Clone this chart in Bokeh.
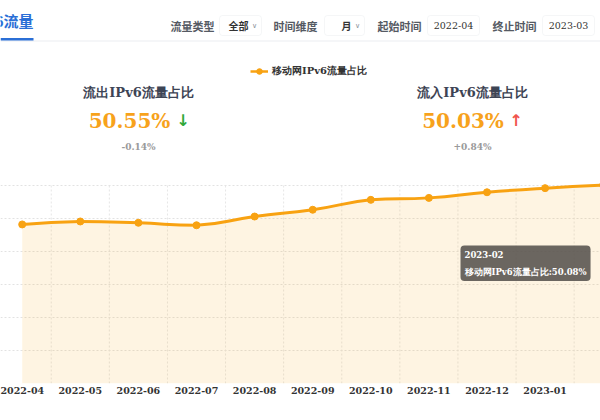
import numpy as np
from bokeh.plotting import figure
from bokeh.models import (Range1d, FixedTicker, Grid, Label, BoxAnnotation,
                          Legend, LegendItem)
from bokeh.embed import file_html
from bokeh.resources import INLINE

# ---------------- data ----------------
months = ["2022-04", "2022-05", "2022-06", "2022-07", "2022-08", "2022-09",
          "2022-10", "2022-11", "2022-12", "2023-01", "2023-02"]
share = [50.0564, 50.0582, 50.0574, 50.0559, 50.0612, 50.0653,
         50.0713, 50.0725, 50.0759, 50.0784, 50.0802]
y_ticks = [49.96, 49.98, 50.00, 50.02, 50.04, 50.06, 50.08]
series_name = "移动网IPv6流量占比"

out_title = "流出IPv6流量占比"
out_ratio = 50.55
out_change = -0.14
in_title = "流入IPv6流量占比"
in_ratio = 50.03
in_change = 0.84

tab_title = "IPv6流量"
filter_names = ["流量类型", "时间维度", "起始时间", "终止时间"]
filter_values = ["全部", "月", "2022-04", "2023-03"]
tooltip_index = 10

# ---------------- layout constants ----------------
W, HT = 600, 420
H = 383                      # frame height (canvas y of x-axis)
STEP_PX = 58.1               # px per category
FIRST_PX = 21.7              # px of first category center
GRID_PX = 33.0               # px between horizontal grid lines
ORANGE = "#f8a212"

n = len(share)
xs = np.arange(n, dtype=float)
ys = np.array(share)
grid_step = y_ticks[1] - y_ticks[0]
y0 = y_ticks[0]
x_start = -FIRST_PX / STEP_PX

p = figure(width=W, height=HT,
           x_range=Range1d(x_start, x_start + W / STEP_PX),
           y_range=Range1d(y0, y0 + grid_step * H / GRID_PX),
           output_backend="svg", toolbar_location=None,
           y_axis_location=None, min_border=0, min_border_bottom=HT - H,
           outline_line_color=None, background_fill_color="white",
           border_fill_color="white")
for g in p.grid:
    g.visible = False

# horizontal dotted grid
p.add_layout(Grid(dimension=1, ticker=FixedTicker(ticks=y_ticks),
                  grid_line_color="#e2e2e2", grid_line_dash="2 2",
                  grid_line_width=1))

# vertical dotted boundaries between categories
bx = np.arange(-1, n) + 0.5
p.segment(x0=bx, y0=[y_ticks[0]] * len(bx), x1=bx, y1=[y_ticks[-1]] * len(bx),
          line_color="#e6e6e6", line_dash="2 2", line_width=1)

# area fill
p.varea(x=xs, y1=[y0] * n, y2=ys, fill_color=ORANGE, fill_alpha=0.12)

# smooth line (ECharts-like bezier smoothing, smooth = 0.5)
smooth = 0.5
cin_x, cin_y, cout_x, cout_y = [], [], [], []
for i in range(n):
    x, y = xs[i], ys[i]
    if i == 0 or i == n - 1:
        cin_x.append(x); cin_y.append(y); cout_x.append(x); cout_y.append(y)
        continue
    px_, py_ = xs[i - 1], ys[i - 1]
    nx_, ny_ = xs[i + 1], ys[i + 1]
    vx, vy = nx_ - px_, ny_ - py_
    r = 0.5
    ax, ay = x - vx * smooth * (1 - r), y - vy * smooth * (1 - r)
    ax = min(max(ax, min(x, px_)), max(x, px_))
    ay = min(max(ay, min(y, py_)), max(y, py_))
    bx_, by_ = x + vx * smooth * r, y + vy * smooth * r
    bx_ = min(max(bx_, min(x, nx_)), max(x, nx_))
    by_ = min(max(by_, min(y, ny_)), max(y, ny_))
    cin_x.append(ax); cin_y.append(ay); cout_x.append(bx_); cout_y.append(by_)

p.bezier(x0=xs[:-1], y0=ys[:-1], x1=xs[1:], y1=ys[1:],
         cx0=cout_x[:-1], cy0=cout_y[:-1], cx1=cin_x[1:], cy1=cin_y[1:],
         line_color=ORANGE, line_width=3)
pts = p.scatter(x=xs, y=ys, size=7, marker="circle", fill_color=ORANGE,
                line_color=ORANGE)
# single-point line: draws nothing in the plot, only serves the legend swatch
leg_line = p.line(x=xs[:1], y=ys[:1], line_color=ORANGE, line_width=2.5)

# x axis
ax_ = p.xaxis[0]
ax_.ticker = FixedTicker(ticks=list(range(n)))
ax_.major_label_overrides = {i: m for i, m in enumerate(months)}
ax_.axis_line_color = None
ax_.major_tick_line_color = None
ax_.minor_tick_line_color = None
ax_.major_label_standoff = -3
ax_.major_label_text_font = "DejaVu Serif"
ax_.major_label_text_font_style = "bold"
ax_.major_label_text_font_size = "9.5px"
ax_.major_label_text_color = "#333333"

# last category's tick label sits on the window's right edge (cut off)
p.add_layout(Label(x=n - 1, y=-9, x_units="data", y_units="screen",
                   text=months[-1], text_font="DejaVu Serif",
                   text_font_style="bold", text_font_size="9.5px",
                   text_color="#333333", text_align="center",
                   text_baseline="middle"))


def lab(x, y, text, size, color, font="DejaVu Serif", style="bold",
        align="left", baseline="middle", **kw):
    p.add_layout(Label(x=x, y=H - y, x_units="screen", y_units="screen",
                       text=text, text_font_size=f"{size}px", text_color=color,
                       text_font=font, text_font_style=style,
                       text_align=align, text_baseline=baseline, **kw))


def box(l, r, t, b, fill, line=None, radius=0):
    p.add_layout(BoxAnnotation(left=l, right=r, top=H - t, bottom=H - b,
                               left_units="screen", right_units="screen",
                               top_units="screen", bottom_units="screen",
                               fill_color=fill, fill_alpha=1,
                               line_color=line, line_width=1,
                               border_radius=radius, level="underlay"))


# header
lab(33, 20, tab_title, 15, "#2b6fd6", font="Noto Sans CJK SC", align="right")
box(0, 600, 40, 41, "#ebeef2")
box(0, 33, 37.5, 40, "#2b6fd6")

name_x = [170, 273, 377, 492]
box_lr = [(219, 261), (324, 364), (427, 479), (542, 594)]
for k in range(4):
    lab(name_x[k], 25, filter_names[k], 11, "#555a63", font="Noto Sans CJK SC")
    l, r = box_lr[k]
    box(l, r, 15, 35, "white", line="#dde0e6", radius=3)
    if k < 2:
        lab(r - 13, 25, filter_values[k], 10, "#333333", font="Noto Sans CJK SC",
            align="right")
        lab(r - 7, 25.5, "∨", 7, "#8a8f98", font="DejaVu Sans", style="normal",
            align="center")
    else:
        lab((l + r) / 2, 25, filter_values[k], 9.5, "#333333", style="normal",
            align="center")


# stats
def stat(cx, vcx, acx, title, ratio, change):
    lab(cx, 92, title, 13, "#3d4454", align="center")
    lab(vcx, 120, f"{ratio:.2f}%", 20, "#f7a21b", align="center")
    up = change >= 0
    lab(acx, 120, "↑" if up else "↓", 16, "#f0544c" if up else "#2fa83a",
        font="DejaVu Sans", align="center")
    sign = "+" if up else "-"
    lab(cx, 146, f"{sign}{abs(change):.2f}%", 9, "#9a9a9a", align="center")


stat(138, 129, 182.5, out_title, out_ratio, out_change)
stat(472, 462.5, 515.5, in_title, in_ratio, in_change)

# legend
legend = Legend(items=[LegendItem(label=series_name, renderers=[leg_line, pts])],
                location=(250, H - 78), orientation="horizontal",
                glyph_width=18, glyph_height=14, label_height=14,
                label_standoff=4, padding=0, margin=0, spacing=0,
                border_line_color=None, background_fill_alpha=0,
                label_text_font="DejaVu Serif", label_text_font_style="bold",
                label_text_font_size="10px", label_text_color="#333333",
                label_text_baseline="middle")
p.add_layout(legend)

# tooltip
tip = f"{months[tooltip_index]}\n{series_name}:{share[tooltip_index]:.2f}%"
lab(460, 245, tip, 8.5, "white", align="left", baseline="top",
    background_fill_color="#57524d", background_fill_alpha=0.88,
    border_radius=4, padding=4, text_line_height=1.75)

open("out.html", "w").write(file_html(p, INLINE))
